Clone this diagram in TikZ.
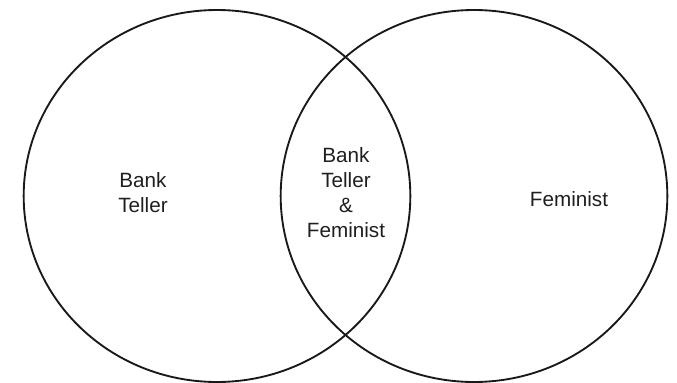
\documentclass[tikz,border=0pt]{standalone}
\usepackage{fontspec}
\setmainfont{Liberation Sans}
\usepackage{xcolor}
\usetikzlibrary{shapes.geometric}

\begin{document}
\begin{tikzpicture}[x=0.75pt, y=-0.75pt,
  every node/.style={font=\fontsize{15.5}{18.75}\selectfont, align=center, text=black!88},
  setring/.style={draw=black!90, line width=1.4pt, ellipse, inner sep=0pt,
    minimum width=290pt, minimum height=279pt}]
\useasboundingbox (0,0) rectangle (677,382);
\node[setring] (teller) at (217,196) {};
\node[setring] (feminist) at (474,196) {};
\node (tellerlbl) at (143,193) {Bank\\Teller};
\node (bothlbl) at (346,193) {Bank\\Teller\\\&\\Feminist};
\node (feministlbl) at (569,199) {Feminist};
\end{tikzpicture}
\end{document}
